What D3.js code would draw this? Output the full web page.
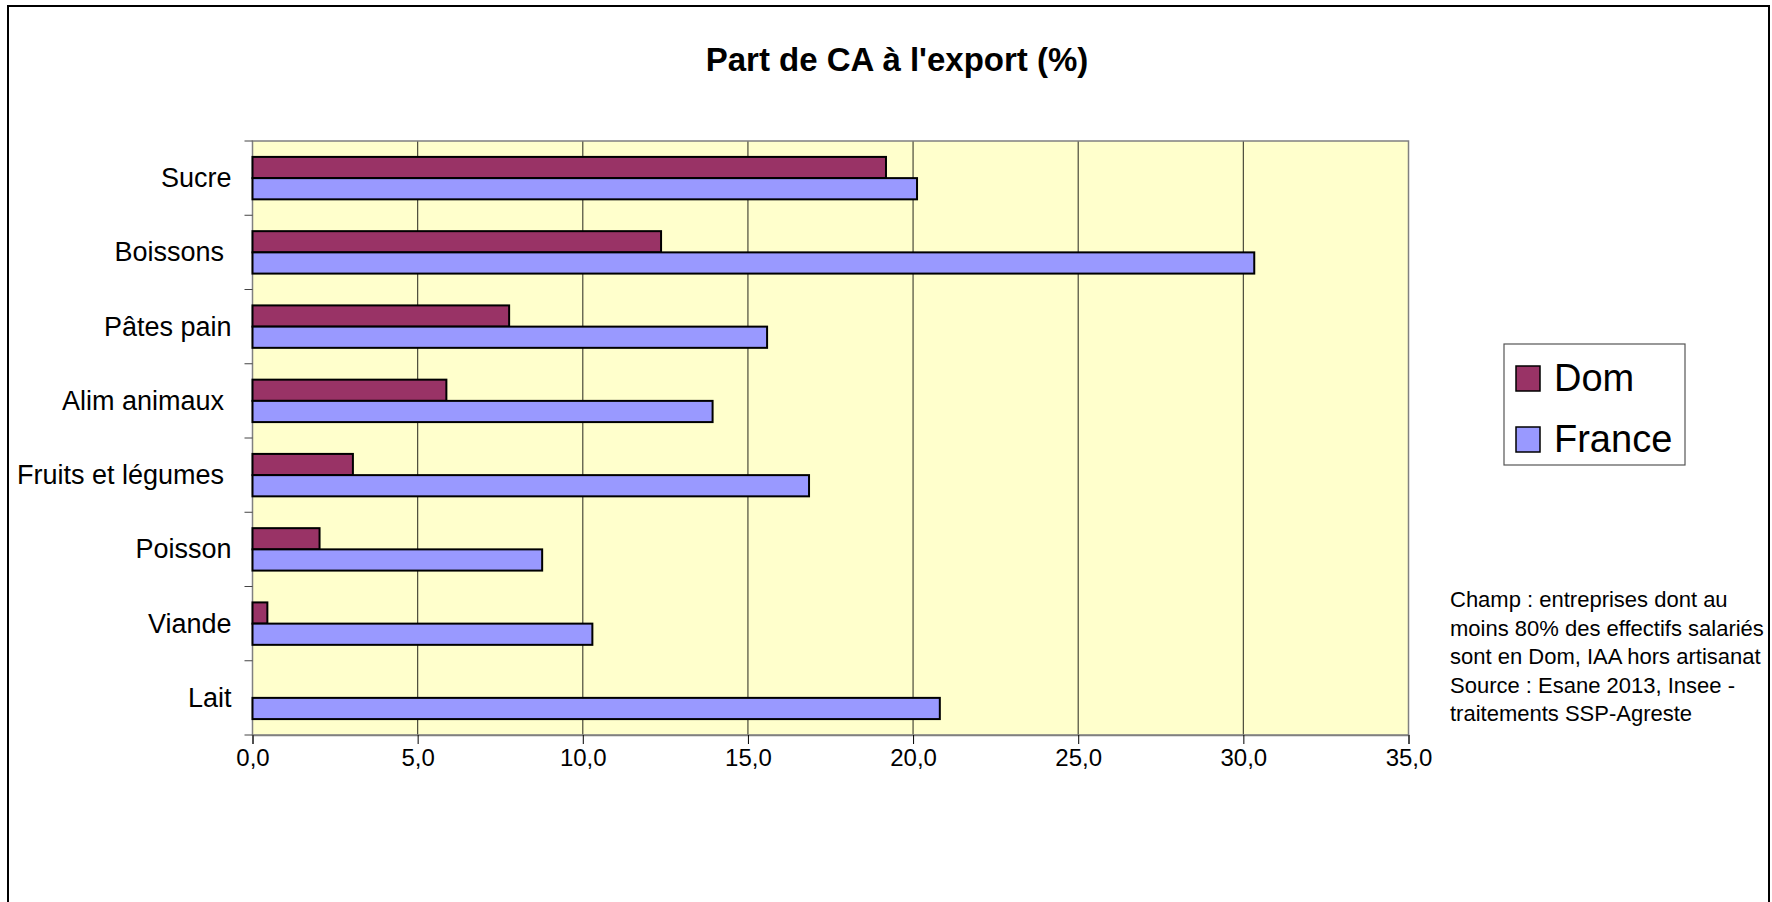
<!DOCTYPE html>
<html>
<head>
<meta charset="utf-8">
<script src="https://cdn.jsdelivr.net/npm/d3@7"></script>
<style>
  html, body { margin: 0; padding: 0; background: #fff; }
  svg { display: block; font-family: "Liberation Sans", Arial, sans-serif; }
  text { white-space: pre; }
</style>
</head>
<body>
<svg id="chart" width="1772" height="902"></svg>
<script>
const categories = ["Sucre", "Boissons ", "Pâtes pain", "Alim animaux ", "Fruits et légumes ", "Poisson", "Viande", "Lait"];
const domValues = [19.18, 12.37, 7.77, 5.87, 3.04, 2.03, 0.45, null];
const franceValues = [20.12, 30.33, 15.58, 13.93, 16.85, 8.77, 10.29, 20.81];
const seriesNames = ["Dom", "France"];
const xTicks = [0, 5, 10, 15, 20, 25, 30, 35];
const titleText = "Part de CA à l'export (%)";
const noteLines = [
  "Champ : entreprises dont au",
  "moins 80% des effectifs salariés",
  "sont en Dom, IAA hors artisanat",
  "Source : Esane 2013, Insee -",
  "traitements SSP-Agreste"
];

const colors = { Dom: "#993366", France: "#9999FF" };

const svg = d3.select("#chart");

// outer chart border
svg.append("rect")
  .attr("x", 8).attr("y", 6).attr("width", 1761).attr("height", 910)
  .attr("fill", "#fff").attr("stroke", "#000").attr("stroke-width", 2);

const plot = { left: 252.5, right: 1408.5, top: 141, bottom: 735 };

const x = d3.scaleLinear().domain([0, 35]).range([plot.left, plot.right]);
const y = d3.scaleBand().domain(categories).range([plot.top, plot.bottom]).padding(0);
const barH = y.bandwidth() / 3.5;
const sub = d3.scaleBand().domain(seriesNames).range([0.75 * barH, 2.75 * barH]).padding(0);

// plot area
svg.append("rect")
  .attr("x", plot.left).attr("y", plot.top)
  .attr("width", plot.right - plot.left).attr("height", plot.bottom - plot.top)
  .attr("fill", "#FFFFCC");

// gridlines
svg.append("g").selectAll("line").data(xTicks.slice(1, -1)).join("line")
  .attr("x1", d => x(d)).attr("x2", d => x(d))
  .attr("y1", plot.top).attr("y2", plot.bottom)
  .attr("stroke", "#4a4a3a").attr("stroke-width", 1.2);

// plot border
svg.append("rect")
  .attr("x", plot.left).attr("y", plot.top)
  .attr("width", plot.right - plot.left).attr("height", plot.bottom - plot.top)
  .attr("fill", "none").attr("stroke", "#808080").attr("stroke-width", 1.5);

// bars
const rows = categories.map((c, i) => ({ cat: c, Dom: domValues[i], France: franceValues[i] }));
const gBars = svg.append("g");
seriesNames.forEach(s => {
  gBars.append("g").selectAll("rect")
    .data(rows.filter(r => r[s] != null && r[s] > 0)).join("rect")
    .attr("x", x(0))
    .attr("y", r => y(r.cat) + sub(s))
    .attr("width", r => x(r[s]) - x(0))
    .attr("height", sub.bandwidth())
    .attr("fill", colors[s])
    .attr("stroke", "#000").attr("stroke-width", 2);
});

// x axis
const locale = d3.formatLocale({ decimal: ",", thousands: " ", grouping: [3], currency: ["", "€"] });
const fmt = locale.format(".1f");
const xAxis = d3.axisBottom(x).tickValues(xTicks).tickFormat(fmt).tickSize(9).tickPadding(5);
const gx = svg.append("g").attr("transform", `translate(0,${plot.bottom})`).call(xAxis);
gx.select(".domain").attr("stroke", "#808080").attr("stroke-width", 1.5);
gx.selectAll(".tick line").attr("stroke", "#000").attr("stroke-width", 1);
gx.selectAll(".tick text").attr("font-size", 24).attr("fill", "#000")
  .attr("font-family", "'Liberation Sans', Arial, sans-serif");

// y axis ticks at band boundaries
const boundaries = categories.map(c => y(c)).concat([plot.bottom]);
svg.append("g").selectAll("line").data(boundaries).join("line")
  .attr("x1", plot.left - 8).attr("x2", plot.left)
  .attr("y1", d => d).attr("y2", d => d)
  .attr("stroke", "#444").attr("stroke-width", 1);

// category labels
svg.append("g").selectAll("text").data(categories).join("text")
  .attr("x", plot.left - 21)
  .attr("y", c => y(c) + y.bandwidth() / 2 + 9)
  .attr("text-anchor", "end")
  .attr("font-size", 27)
  .attr("fill", "#000")
  .text(c => c);

// title
svg.append("text")
  .attr("x", 897).attr("y", 71)
  .attr("text-anchor", "middle")
  .attr("font-size", 33).attr("font-weight", "bold")
  .text(titleText);

// legend
const lg = svg.append("g");
lg.append("rect").attr("x", 1504).attr("y", 344).attr("width", 181).attr("height", 121)
  .attr("fill", "#fff").attr("stroke", "#555").attr("stroke-width", 1.2);
seriesNames.forEach((s, i) => {
  const yy = 366 + i * 61;
  lg.append("rect").attr("x", 1516).attr("y", yy).attr("width", 24).attr("height", 25)
    .attr("fill", colors[s]).attr("stroke", "#000").attr("stroke-width", 1.5);
  lg.append("text").attr("x", 1554).attr("y", yy + 25)
    .attr("font-size", 38).attr("fill", "#000").text(s);
});

// note
svg.append("g").selectAll("text").data(noteLines).join("text")
  .attr("x", 1450).attr("y", (d, i) => 607 + i * 28.5)
  .attr("font-size", 22).attr("fill", "#000")
  .text(d => d);
</script>
</body>
</html>
